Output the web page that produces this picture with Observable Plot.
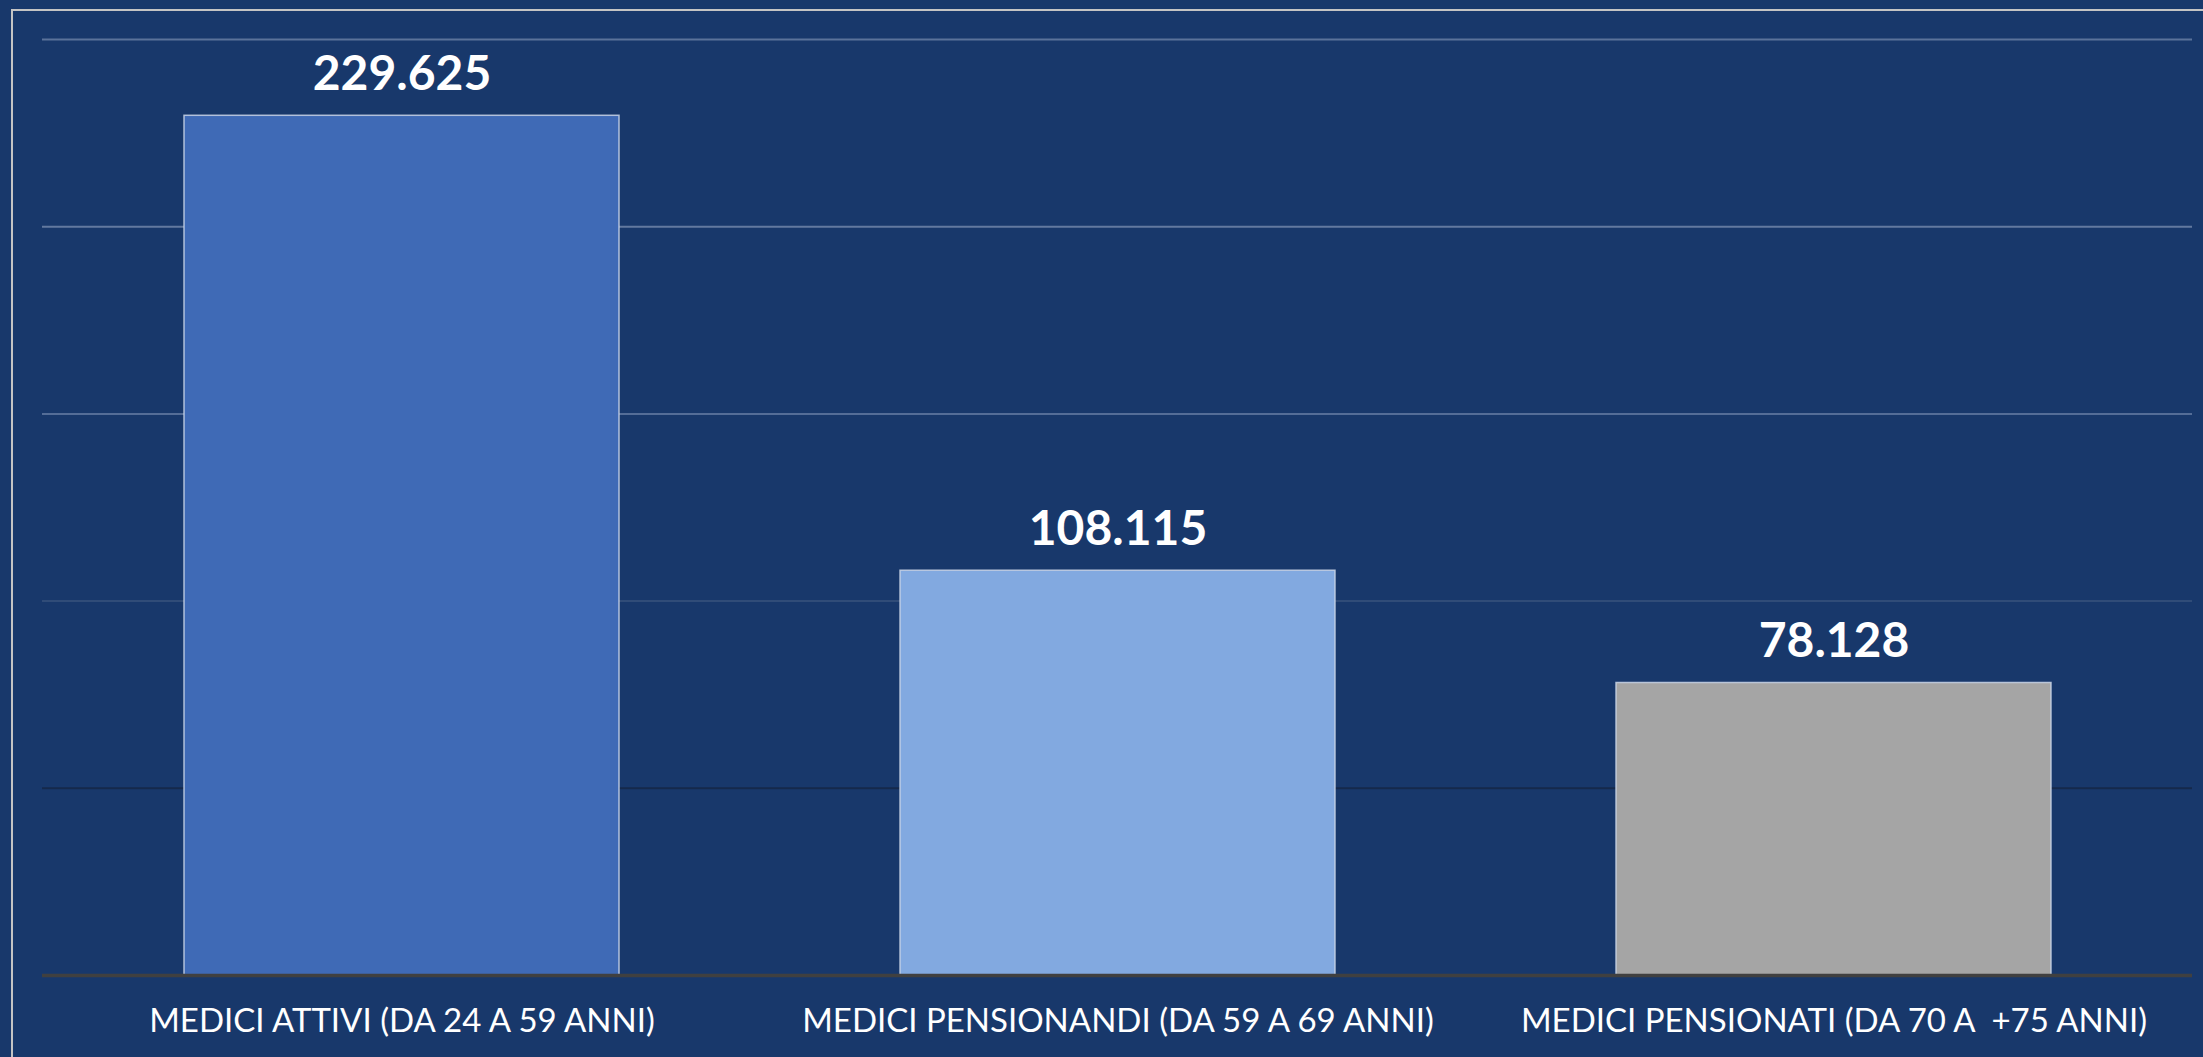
<!DOCTYPE html>
<html>
<head>
<meta charset="utf-8">
<script src="https://cdn.jsdelivr.net/npm/d3@7"></script>
<script src="https://cdn.jsdelivr.net/npm/@observablehq/plot@0.6"></script>
<style>
  html, body { margin: 0; padding: 0; background: #18386b; overflow: hidden; }
  #wrap { position: relative; width: 2203px; height: 1057px; background: #18386b; }
  #frame { position: absolute; left: 11px; top: 9px; width: 2300px; height: 1200px;
           border: 2px solid #c4c4c4; box-sizing: border-box; }
  #chart { position: absolute; left: 0; top: 0; }
</style>
</head>
<body>
<div id="wrap"><div id="frame"></div><div id="chart"></div></div>
<script>
const categories = [
  "MEDICI ATTIVI (DA 24 A 59 ANNI)",
  "MEDICI PENSIONANDI (DA 59 A 69 ANNI)",
  "MEDICI PENSIONATI (DA 70 A  +75 ANNI)"
];
const values = [229625, 108115, 78128];
const valueLabels = ["229.625", "108.115", "78.128"];
const gridTicks = [50000, 100000, 150000, 200000, 250000];

const barColors = ["#3f6ab6", "#82a9e0", "#a5a5a5"];
const gridColors = {50000: "#15294b", 100000: "#304c78", 150000: "#546d97", 200000: "#62799f", 250000: "#5a729a"};

const data = categories.map((c, i) => ({category: c, value: values[i], label: valueLabels[i], color: barColors[i]}));

const chart = Plot.plot({
  width: 2203,
  height: 1057,
  marginLeft: 42,
  marginRight: 11,
  marginTop: 39,
  marginBottom: 82,
  style: {background: "transparent", color: "#ffffff", fontFamily: "Lato, sans-serif"},
  x: {domain: categories, paddingInner: 0.393, paddingOuter: 0.1965, label: null},
  y: {domain: [0, 250000], axis: null},
  marks: [
    Plot.ruleY(gridTicks, {y: d => d, stroke: d => gridColors[d], strokeWidth: 2}),
    Plot.barY(data, {x: "category", y: "value", fill: "color", stroke: "#c9d3e6", strokeWidth: 1.5, strokeOpacity: 0.85}),
    Plot.ruleY([0], {stroke: "#404040", strokeWidth: 3.5}),
    Plot.text(data, {x: "category", y: "value", text: "label", lineAnchor: "bottom", dy: -26,
                     fill: "#ffffff", fontSize: 48, fontWeight: "bold", fontFamily: "Lato, sans-serif"}),
    Plot.axisX({tickSize: 0, tickPadding: 33, fontSize: 33, fill: "#ffffff", fontFamily: "Lato, sans-serif", label: null})
  ]
});
document.getElementById("chart").appendChild(chart);
</script>
</body>
</html>
